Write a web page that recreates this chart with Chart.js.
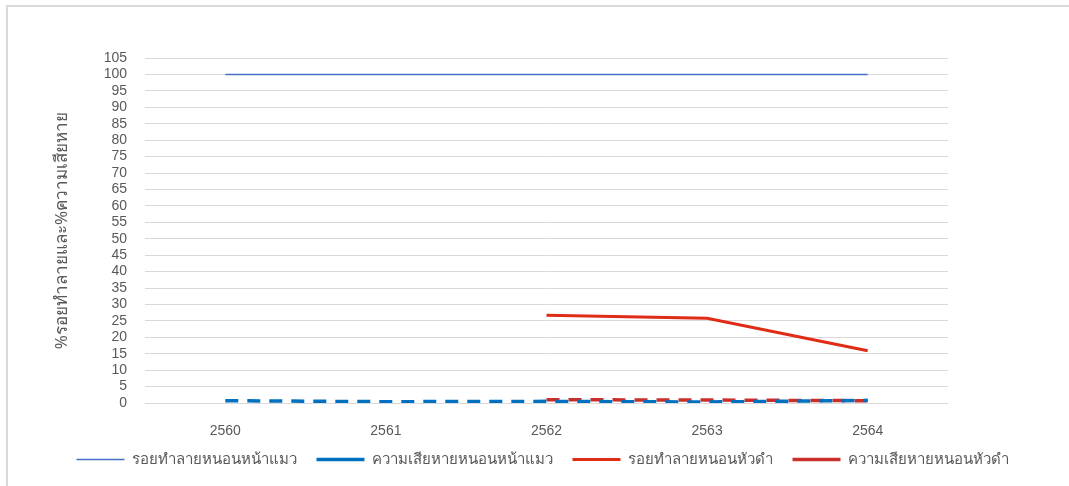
<html>
<head>
<meta charset="utf-8">
<style>
  body { margin: 0; background: #fff; }
  #frame { position: absolute; left: 6px; top: 5px; width: 1080px; height: 500px;
           border-left: 2px solid #d9d9d9; border-top: 2px solid #d9d9d9; }
  #wrap { position: absolute; left: 0; top: 0; width: 1069px; height: 486px; }
</style>
</head>
<body>
<script src="https://cdn.jsdelivr.net/npm/chart.js@4/dist/chart.umd.min.js"></script>
<div id="frame"></div>
<div id="wrap"><canvas id="myChart"></canvas></div>
<script>
const years = ['2560', '2561', '2562', '2563', '2564'];
const catDamageMark = [100, 100, 100, 100, 100];
const catLoss = [0.7, 0.4, 0.5, 0.3, 0.8];
const blackHeadMark = [null, null, 26.7, 25.8, 15.9];
const blackHeadLoss = [null, null, 1.0, 0.9, 0.7];
const yTitle = '%รอยทำลายและ%ความเสียหาย';

const ctx = document.getElementById('myChart').getContext('2d');
const myChart = new Chart(ctx, {
    type: 'line',
    data: {
        labels: years,
        datasets: [{
            label: 'รอยทำลายหนอนหน้าแมว',
            data: catDamageMark,
            borderColor: '#4472C4',
            backgroundColor: '#4472C4',
            borderWidth: 1.5
        },
        {
            label: 'ความเสียหายหนอนหน้าแมว',
            data: catLoss,
            borderColor: '#0070C0',
            backgroundColor: '#0070C0',
            borderWidth: 3.5,
            borderDash: [13, 9]
        },
        {
            label: 'รอยทำลายหนอนหัวดำ',
            data: blackHeadMark,
            borderColor: '#E02B17',
            backgroundColor: '#E02B17',
            borderWidth: 3
        },
        {
            label: 'ความเสียหายหนอนหัวดำ',
            data: blackHeadLoss,
            borderColor: '#C9302C',
            backgroundColor: '#C9302C',
            borderWidth: 3.5,
            borderDash: [13, 9]
        }]
    },
    options: {
        responsive: true,
        maintainAspectRatio: false,
        animation: false,
        elements: { point: { radius: 0, hoverRadius: 0 }, line: { tension: 0 } },
        layout: { padding: { left: 24, top: 58, right: 0, bottom: 9 } },
        scales: {
            x: {
                offset: true,
                grid: { display: false, drawTicks: false },
                border: { display: false },
                ticks: { color: '#595959', padding: 20, font: { family: 'Liberation Sans', size: 14 } },
                afterFit: s => { s.height = 37; }
            },
            y: {
                min: 0,
                max: 105,
                grid: { color: '#d9d9d9', drawTicks: false, lineWidth: 1 },
                border: { display: false },
                ticks: { stepSize: 5, autoSkip: false, color: '#595959', padding: 18,
                         font: { family: 'Liberation Sans', size: 14 } },
                title: { display: true, text: yTitle, color: '#595959', padding: { top: 28, bottom: 4 },
                         font: { family: 'Noto Sans', size: 17 } },
                afterFit: s => { s.width = 121; }
            },
            // empty right axis, only keeps the plot away from the right edge
            yRight: {
                position: 'right',
                min: 0,
                max: 105,
                grid: { display: false },
                border: { display: false },
                ticks: { display: false },
                afterFit: s => { s.width = 121; }
            }
        },
        plugins: {
            tooltip: { enabled: false },
            legend: {
                position: 'bottom',
                labels: {
                    usePointStyle: true,
                    pointStyle: 'line',
                    pointStyleWidth: 48,
                    boxHeight: 14,
                    padding: 12,
                    color: '#595959',
                    font: { family: 'Noto Sans', size: 15 },
                    // a trailing en space widens the gap between entries
                    generateLabels: chart => {
                        const items = Chart.defaults.plugins.legend.labels.generateLabels(chart);
                        items.forEach(it => { it.text = it.text + '\u2002'; });
                        return items;
                    }
                }
            }
        }
    }
});
</script>
</body>
</html>
